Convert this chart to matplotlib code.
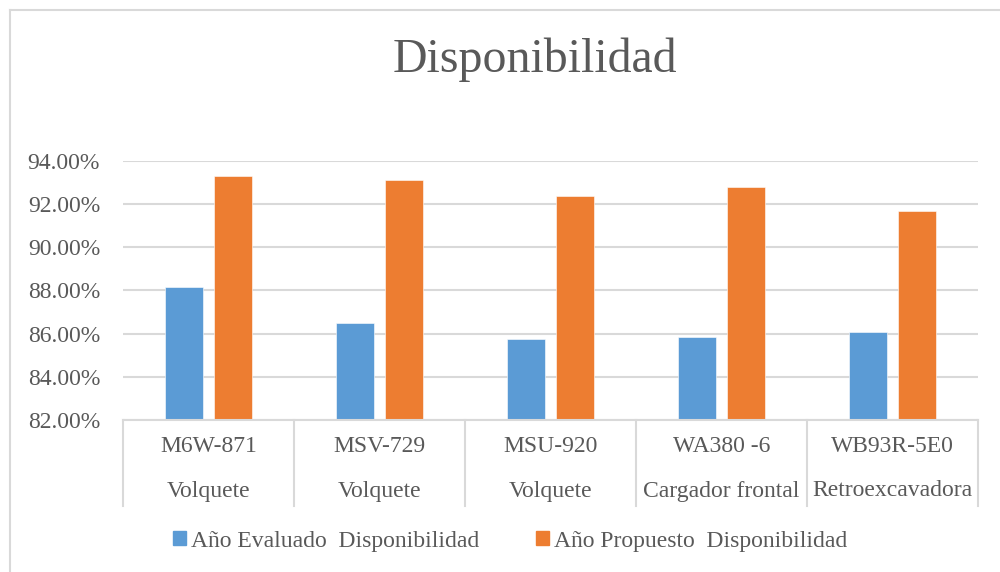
import matplotlib
matplotlib.use("Agg")
import matplotlib.pyplot as plt
import matplotlib.patches as mpatches
import numpy as np

plt.rcParams["font.family"] = ["Liberation Serif", "DejaVu Serif"]

# data
codigos = ["M6W-871", "MSV-729", "MSU-920", "WA380 -6", "WB93R-5E0"]
tipos = ["Volquete", "Volquete", "Volquete", "Cargador frontal", "Retroexcavadora"]
evaluado = [88.17, 86.49, 85.75, 85.83, 86.06]
propuesto = [93.32, 93.12, 92.39, 92.80, 91.69]
serie_nombres = ["Año Evaluado  Disponibilidad", "Año Propuesto  Disponibilidad"]
yticks = [82, 84, 86, 88, 90, 92, 94]

azul = "#5B9BD5"
naranja = "#ED7D31"
gris_txt = "#595959"
gris_lin = "#D9D9D9"

W, H = 1000, 572
fig = plt.figure(figsize=(W / 100, H / 100), dpi=100)

# chart border (only top and left visible in reference)
fig.add_artist(plt.Line2D([10 / W, 10 / W], [0, 1 - 10 / H], color=gris_lin, lw=1.5))
fig.add_artist(plt.Line2D([10 / W, 1], [1 - 10 / H, 1 - 10 / H], color=gris_lin, lw=1.5))

ax = fig.add_axes([123 / W, 1 - 420 / H, (978 - 123) / W, (420 - 161) / H])

x = np.arange(len(codigos))
bw = 0.227
off = 0.143
ax.bar(x - off, evaluado, bw, color=azul, edgecolor="white", linewidth=0.4, zorder=3)
ax.bar(x + off, propuesto, bw, color=naranja, edgecolor="white", linewidth=0.4, zorder=3)

ax.set_xlim(-0.5, len(codigos) - 0.5)
ax.set_ylim(82, 94)
ax.set_yticks(yticks)
ax.set_yticklabels([f"{v:.2f}%" for v in yticks], fontsize=17, color=gris_txt)
ax.tick_params(axis="y", length=0, pad=16.5)
ax.set_xticks([])
ax.grid(axis="y", color=gris_lin, lw=1.5, zorder=0)
for s in ["left", "right", "top"]:
    ax.spines[s].set_visible(False)
ax.spines["bottom"].set_color(gris_lin)
ax.spines["bottom"].set_linewidth(1.5)
ax.spines["bottom"].set_zorder(4)

# multi-level category axis
trans = ax.get_xaxis_transform()
y_sep = -(506 - 420) / (420 - 161)
for i in range(len(codigos) + 1):
    ax.plot([i - 0.5, i - 0.5], [0, y_sep], transform=trans, color=gris_lin,
            lw=1.5, clip_on=False)
for i, (c, t) in enumerate(zip(codigos, tipos)):
    ax.text(i, -(447 - 420) / (420 - 161), c, transform=trans, ha="center",
            va="center", fontsize=17, color=gris_txt)
    ax.text(i, -(491 - 420) / (420 - 161), t, transform=trans, ha="center",
            va="center", fontsize=17, color=gris_txt)

fig.text(0.535, 1 - 60 / H, "Disponibilidad", ha="center", va="center",
         fontsize=34.5, color=gris_txt)

handles = [mpatches.Patch(color=azul, label=serie_nombres[0]),
           mpatches.Patch(color=naranja, label=serie_nombres[1])]
leg = fig.legend(handles=handles, loc="center", bbox_to_anchor=(0.51, 1 - 541 / H),
                 ncol=2, frameon=False, fontsize=17, handlelength=0.55,
                 handleheight=0.55, handletextpad=0.2, columnspacing=2.4)
for t in leg.get_texts():
    t.set_color(gris_txt)

fig.savefig("out.png", dpi=100)
